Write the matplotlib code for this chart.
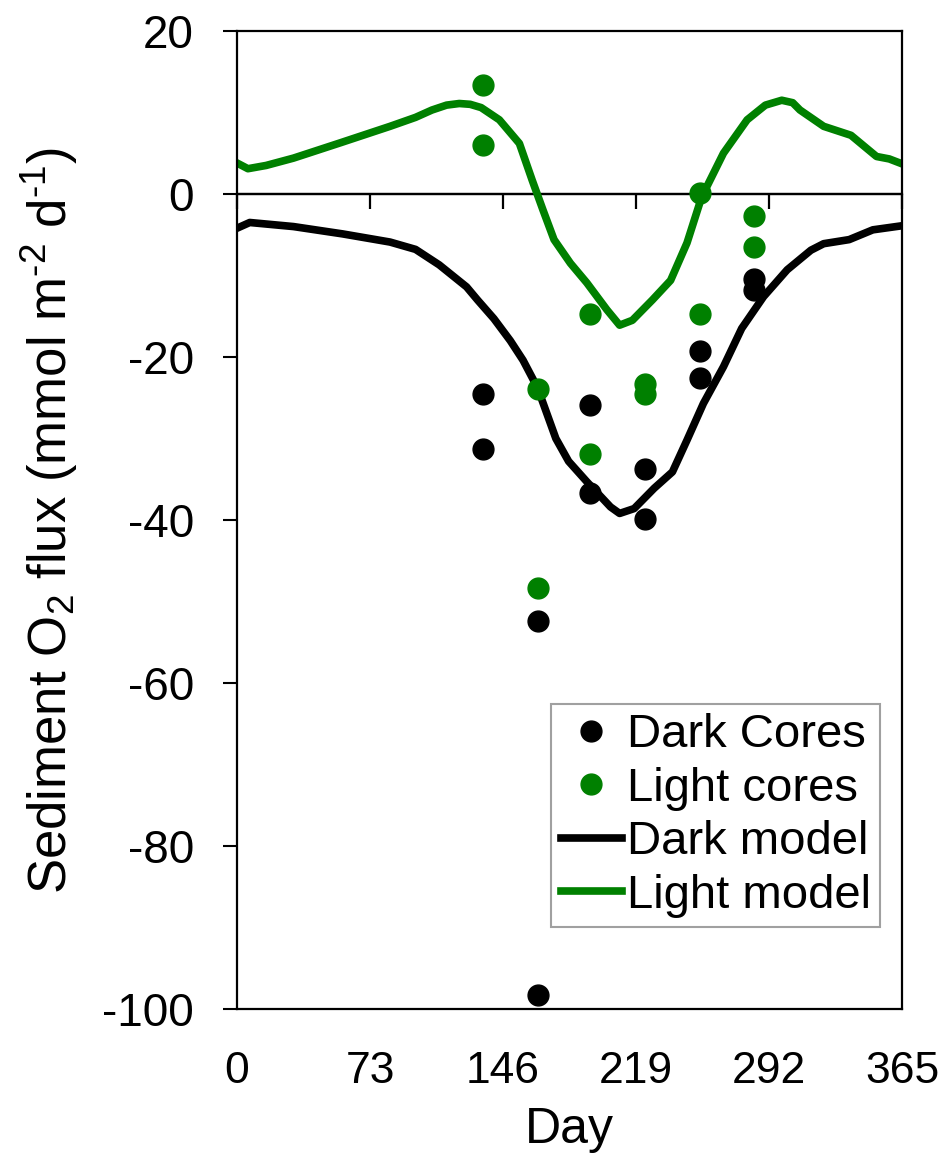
import matplotlib.pyplot as plt

plt.rcParams['font.family'] = ['Liberation Sans', 'DejaVu Sans']
plt.rcParams['mathtext.fontset'] = 'custom'
plt.rcParams['mathtext.rm'] = 'Liberation Sans'
plt.rcParams['mathtext.it'] = 'Liberation Sans'
plt.rcParams['axes.unicode_minus'] = False

# dias de amostragem dos cores (dois cores por data)
dias_cores = [135, 135, 165, 165, 194, 194, 224, 224, 254, 254, 284, 284]
dark_cores = [-24.5, -31.3, -52.4, -98.3, -25.9, -36.7, -33.7, -39.9, -19.3, -22.6, -10.4, -11.8]
light_cores = [13.4, 6.0, -23.9, -48.3, -14.7, -31.9, -23.3, -24.5, 0.1, -14.7, -2.7, -6.5]

# modelo claro
dias_light = [0, 6, 16, 31, 57, 84, 98, 107, 115, 122, 128, 134, 144, 155, 162, 168, 174,
              183, 192, 203, 210, 217, 228, 238, 247, 255, 267, 280, 290, 299, 305, 309,
              322, 337, 351, 358, 365]
light_model = [3.8, 3.1, 3.5, 4.4, 6.3, 8.3, 9.4, 10.3, 10.9, 11.1, 11.0, 10.6, 9.1, 6.2, 1.7,
               -2.0, -5.6, -8.5, -10.9, -14.2, -16.1, -15.5, -13.0, -10.6, -6.0, -0.4, 5.0,
               9.1, 10.9, 11.5, 11.2, 10.3, 8.3, 7.2, 4.6, 4.3, 3.7]

# modelo escuro
dias_dark = [0, 7, 31, 58, 84, 98, 111, 126, 132, 141, 150, 157, 165, 175, 182, 192, 205,
             210, 218, 229, 239, 247, 256, 267, 277, 289, 302, 315, 322, 336, 349, 365]
dark_model = [-4.2, -3.5, -4.0, -4.9, -5.9, -6.8, -8.7, -11.4, -13.0, -15.3, -18.0, -20.4,
              -23.8, -30.0, -32.8, -35.3, -38.4, -39.2, -38.6, -36.1, -34.1, -30.2, -25.7,
              -21.2, -16.5, -12.6, -9.3, -6.9, -6.1, -5.6, -4.4, -3.9]

xticks = [0, 73, 146, 219, 292, 365]
yticks = [20, 0, -20, -40, -60, -80, -100]

verde = '#008000'

fig = plt.figure(figsize=(9.45, 11.6), dpi=100)
ax = fig.add_axes([0.2508, 0.1302, 0.7037, 0.8431])

ax.plot(dias_cores, dark_cores, 'o', color='black', markersize=15, label='Dark Cores', zorder=3)
ax.plot(dias_cores, light_cores, 'o', color=verde, markersize=15, label='Light cores', zorder=3)
ax.plot(dias_dark, dark_model, '-', color='black', linewidth=5.5, label='Dark model', zorder=2)
ax.plot(dias_light, light_model, '-', color=verde, linewidth=5.5, label='Light model', zorder=2)

ax.axhline(0, color='black', linewidth=1.6, zorder=1)

ax.set_xlim(0, 365)
ax.set_ylim(-100, 20)
ax.set_xticks(xticks)
ax.set_yticks(yticks)
ax.tick_params(axis='x', length=0, pad=30, labelsize=32)
ax.tick_params(axis='y', direction='out', length=10, width=1.5, pad=21, labelsize=33)
for s in ax.spines.values():
    s.set_linewidth(1.6)

# marcas do eixo x sobre a linha do zero
sec = ax.secondary_xaxis(100 / 120)
sec.set_xticks(xticks)
sec.tick_params(direction='in', length=11, width=1.6, labeltop=False, labelbottom=False)
sec.spines['top'].set_linewidth(1.6)

ax.set_xlabel('Day', fontsize=36, labelpad=11)
ax.set_ylabel(r'Sediment O$_2$ flux (mmol m$^{\text{-2}}$ d$^{\text{-1}}$)', fontsize=38, labelpad=16)

leg = ax.legend(loc='lower right', bbox_to_anchor=(0.967, 0.0838), borderaxespad=0,
                fontsize=34, frameon=True, fancybox=False, edgecolor='#888888',
                handlelength=1.3, handletextpad=0.1, labelspacing=0.2, borderpad=0.2)
leg.get_frame().set_linewidth(1.5)

fig.savefig('out.png', dpi=100)
